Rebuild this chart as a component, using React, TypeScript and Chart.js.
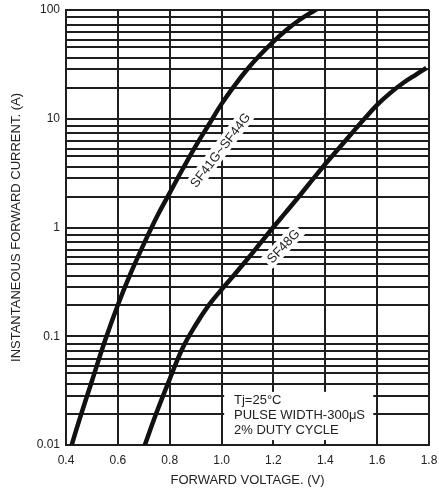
import React, { useEffect, useRef } from "react";
import { Chart, registerables } from "chart.js";

Chart.register(...registerables);

// ---- data ----
const sf41Volts = [0.422, 0.45, 0.5, 0.55, 0.6, 0.65, 0.7, 0.75, 0.8, 0.85, 0.9, 0.95, 1.0, 1.05, 1.1, 1.15, 1.2, 1.25, 1.3, 1.364, 1.39];
const sf41Amps = [0.01, 0.0166, 0.0388, 0.0904, 0.194, 0.382, 0.705, 1.25, 2.08, 3.45, 5.61, 8.76, 13.7, 20.2, 28.7, 39.0, 51.3, 65.5, 80.9, 101, 111];

const sf48Volts = [0.7, 0.75, 0.8, 0.85, 0.9, 0.95, 1.0, 1.05, 1.1, 1.15, 1.2, 1.25, 1.3, 1.35, 1.4, 1.45, 1.5, 1.55, 1.6, 1.65, 1.7, 1.75, 1.79];
const sf48Amps = [0.0094, 0.0201, 0.0404, 0.078, 0.127, 0.192, 0.269, 0.37, 0.513, 0.72, 1.01, 1.4, 1.95, 2.74, 3.84, 5.27, 7.24, 9.95, 13.4, 17.2, 21.3, 25.5, 29.3];

const xTicks = [0.4, 0.6, 0.8, 1.0, 1.2, 1.4, 1.6, 1.8];
const yDecades = [0.01, 0.1, 1, 10, 100];
const yDecadeLabels = ["0.01", "0.1", "1", "10", "100"];
const gridMantissas = [1.92, 2.84, 3.61, 4.59, 5.32, 6.24, 7.35, 8.55];

const curveLabelTexts = ["SF41G~SF44G", "SF48G"];
const noteLines = ["Tj=25°C", "PULSE WIDTH-300\u03BCS", "2% DUTY CYCLE"];

const xTitle = "FORWARD VOLTAGE. (V)";
const yTitle = "INSTANTANEOUS FORWARD CURRENT. (A)";

// ---- styling / placement ----
const FONT = "'Liberation Sans', Arial, Helvetica, sans-serif";
const TEXT = "#222";
const GRID = "#1e1e1e";
const CURVE = "#111";

const curveLabelPlacement = [
  { v: 0.994, i: 5.16, angle: -52.6 },
  { v: 1.237, i: 0.676, angle: -46.6 },
];
const notePlacement = { left: 1.01, right: 1.585, textX: 1.048, firstLine: 0.026, lineGap: 14.6 };

const yTickValues: number[] = [];
yDecades.slice(0, -1).forEach((d) => {
  yTickValues.push(d);
  gridMantissas.forEach((m) => yTickValues.push(d * m));
});
yTickValues.push(yDecades[yDecades.length - 1]);

const toPoints = (xs: number[], ys: number[]) => xs.map((x, k) => ({ x, y: ys[k] }));

const notesPlugin = {
  id: "notes",
  afterDatasetsDraw(chart: any) {
    const { ctx, scales } = chart;
    const xs = scales.x;
    const ys = scales.y;
    ctx.save();
    ctx.font = `13px ${FONT}`;
    curveLabelTexts.forEach((t, k) => {
      const p = curveLabelPlacement[k];
      const px = xs.getPixelForValue(p.v);
      const py = ys.getPixelForValue(p.i);
      ctx.save();
      ctx.translate(px, py);
      ctx.rotate((p.angle * Math.PI) / 180);
      const w = ctx.measureText(t).width;
      ctx.fillStyle = "#fff";
      ctx.fillRect(-w / 2 - 3, -8, w + 6, 16);
      ctx.fillStyle = TEXT;
      ctx.textAlign = "center";
      ctx.textBaseline = "middle";
      ctx.fillText(t, 0, 1);
      ctx.restore();
    });
    const l = xs.getPixelForValue(notePlacement.left);
    const r = xs.getPixelForValue(notePlacement.right);
    const y0 = ys.getPixelForValue(notePlacement.firstLine);
    const tx = xs.getPixelForValue(notePlacement.textX);
    ctx.fillStyle = "#fff";
    ctx.fillRect(l, y0 - 8, r - l, notePlacement.lineGap * (noteLines.length - 1) + 16 + 3);
    ctx.fillStyle = TEXT;
    ctx.textAlign = "left";
    ctx.textBaseline = "middle";
    noteLines.forEach((s, k) => {
      ctx.fillText(s, tx, y0 + k * notePlacement.lineGap + 1);
    });
    ctx.restore();
  },
};

export default function App() {
  const ref = useRef<HTMLCanvasElement>(null);

  useEffect(() => {
    if (!ref.current) return;
    const chart = new Chart(ref.current, {
      type: "line",
      data: {
        datasets: [
          {
            label: curveLabelTexts[0],
            data: toPoints(sf41Volts, sf41Amps),
            borderColor: CURVE,
            borderWidth: 4.5,
            pointRadius: 0,
            tension: 0.4,
            fill: false,
          },
          {
            label: curveLabelTexts[1],
            data: toPoints(sf48Volts, sf48Amps),
            borderColor: CURVE,
            borderWidth: 4.5,
            pointRadius: 0,
            tension: 0.4,
            fill: false,
          },
        ],
      },
      options: {
        animation: false,
        responsive: false,
        layout: { padding: { top: 10, right: 10, left: 0, bottom: 0 } },
        plugins: {
          legend: { display: false },
          tooltip: { enabled: false },
        },
        scales: {
          x: {
            type: "linear",
            min: 0.4,
            max: 1.8,
            afterBuildTicks: (s: any) => {
              s.ticks = xTicks.map((v) => ({ value: v }));
            },
            afterFit: (s: any) => {
              s.height = 45;
              s.paddingLeft = 0;
              s.paddingRight = 0;
            },
            ticks: {
              autoSkip: false,
              maxRotation: 0,
              padding: 8,
              color: TEXT,
              font: { family: FONT, size: 12 },
              callback: (v: any) => Number(v).toFixed(1),
            },
            grid: { color: GRID, lineWidth: 2, drawTicks: false },
            border: { display: true, color: GRID, width: 2 },
            title: {
              display: true,
              text: xTitle,
              color: TEXT,
              font: { family: FONT, size: 13 },
              padding: { top: 0, bottom: 2 },
            },
          },
          y: {
            type: "logarithmic",
            min: 0.01,
            max: 100,
            afterBuildTicks: (s: any) => {
              s.ticks = yTickValues.map((v) => ({ value: v }));
            },
            afterFit: (s: any) => {
              s.width = 66;
              s.paddingTop = 0;
              s.paddingBottom = 0;
            },
            ticks: {
              autoSkip: false,
              padding: 6,
              color: TEXT,
              font: { family: FONT, size: 12 },
              callback: (v: any) => {
                const idx = yDecades.findIndex((d) => Math.abs(Math.log10(Number(v)) - Math.log10(d)) < 1e-6);
                return idx >= 0 ? yDecadeLabels[idx] : "";
              },
            },
            grid: { color: GRID, lineWidth: 2, drawTicks: false },
            border: { display: true, color: GRID, width: 2 },
            title: {
              display: true,
              text: yTitle,
              color: TEXT,
              font: { family: FONT, size: 13 },
              padding: { top: 9, bottom: 0 },
            },
          },
        },
      },
      plugins: [notesPlugin],
    } as any);
    return () => chart.destroy();
  }, []);

  return (
    <div style={{ position: "fixed", left: 0, top: 0, width: 439, height: 490, background: "#fff" }}>
      <canvas ref={ref} width={439} height={490} style={{ display: "block", width: 439, height: 490 }} />
    </div>
  );
}
